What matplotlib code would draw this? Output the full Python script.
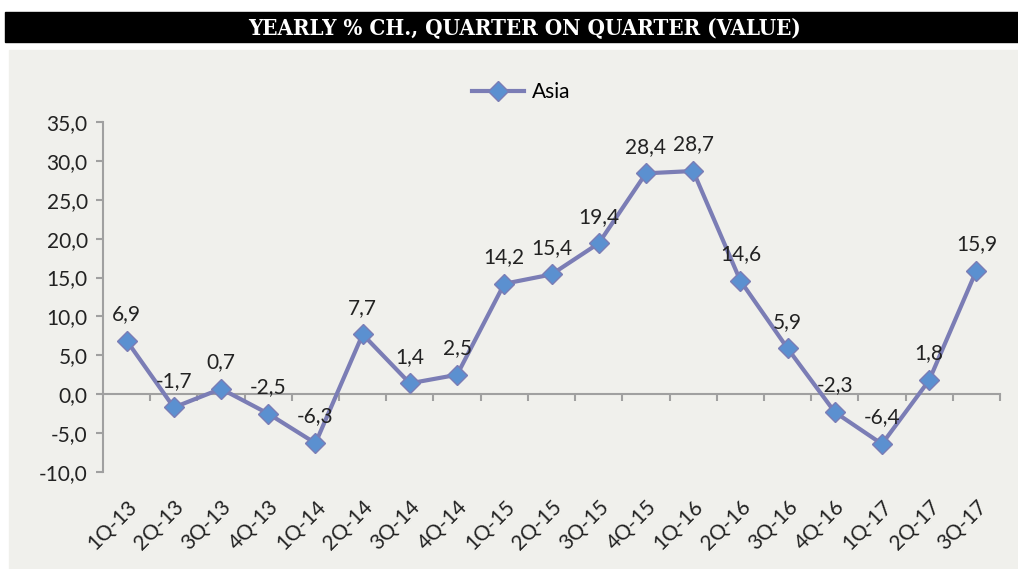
"""Yearly % change, quarter on quarter (value) - Asia."""
import matplotlib
matplotlib.use("Agg")
import matplotlib.pyplot as plt
from matplotlib.patches import Rectangle
from matplotlib.ticker import FixedLocator, FuncFormatter

# Data
quarters = ["1Q-13", "2Q-13", "3Q-13", "4Q-13", "1Q-14", "2Q-14", "3Q-14",
            "4Q-14", "1Q-15", "2Q-15", "3Q-15", "4Q-15", "1Q-16", "2Q-16",
            "3Q-16", "4Q-16", "1Q-17", "2Q-17", "3Q-17"]
asia = [6.9, -1.7, 0.7, -2.5, -6.3, 7.7, 1.4, 2.5, 14.2, 15.4, 19.4, 28.4,
        28.7, 14.6, 5.9, -2.3, -6.4, 1.8, 15.9]
y_ticks = [-10, -5, 0, 5, 10, 15, 20, 25, 30, 35]

BG = "#f0f0ec"
LINE = "#7b7db5"
MARKER = "#5b90d0"
AXIS = "#a0a0a0"
TXT = "#222222"

plt.rcParams["font.family"] = ["Lato", "DejaVu Sans"]

fig = plt.figure(figsize=(10.18, 5.69), dpi=100)
fig.patch.set_facecolor("white")

# grey panel and black title bar
fig.add_artist(Rectangle((9 / 1018, 0), 1 - 9 / 1018, 1 - 50 / 569,
                         transform=fig.transFigure, color=BG, zorder=0))
fig.add_artist(Rectangle((5 / 1018, 1 - 42 / 569), 1 - 5 / 1018, 30 / 569,
                         transform=fig.transFigure, color="black", zorder=0))
fig.text(0.515, 1 - 28 / 569, "YEARLY % CH., QUARTER ON QUARTER (VALUE)",
         color="white", ha="center", va="center", fontsize=16,
         family="DejaVu Serif", weight="bold", stretch="condensed")

ax = fig.add_axes([103 / 1018, 1 - 472 / 569, 897 / 1018, 350 / 569])
ax.set_facecolor("none")

x = list(range(len(quarters)))
ax.plot(x, asia, color=LINE, lw=3, marker="D", markersize=10,
        markerfacecolor=MARKER, markeredgecolor=LINE, markeredgewidth=1,
        label="Asia", zorder=3)

for xi, v in zip(x, asia):
    ax.annotate(f"{v:.1f}".replace(".", ","), (xi, v), xytext=(0, 12),
                textcoords="offset points", ha="center", va="bottom",
                fontsize=15, color=TXT)

ax.set_xlim(-0.5, len(quarters) - 0.5)
ax.set_ylim(-10, 35)

# y axis
ax.set_yticks(y_ticks)
ax.yaxis.set_major_formatter(FuncFormatter(lambda v, p: f"{v:.1f}".replace(".", ",")))
ax.tick_params(axis="y", length=5, width=1.5, color=AXIS, labelsize=15,
               labelcolor=TXT, pad=6)

# x axis line at zero with ticks between categories
for s in ["top", "right"]:
    ax.spines[s].set_visible(False)
ax.spines["left"].set_color(AXIS)
ax.spines["left"].set_linewidth(1.5)
ax.spines["bottom"].set_position(("data", 0))
ax.spines["bottom"].set_color(AXIS)
ax.spines["bottom"].set_linewidth(1.5)
ax.set_xticks([])
ax.xaxis.set_minor_locator(FixedLocator([i + 0.5 for i in x]))
ax.tick_params(axis="x", which="minor", length=5, width=1.5, color=AXIS)

# category labels at the bottom of the plot
sec = ax.secondary_xaxis(0.0)
sec.set_xticks(x)
sec.set_xticklabels(quarters, rotation=45, ha="right", rotation_mode="anchor",
                    fontsize=15, color=TXT)
sec.tick_params(length=0, pad=18)
sec.spines["bottom"].set_visible(False)

ax.legend(loc="center", bbox_to_anchor=(521 / 1018, 1 - 92 / 569),
          bbox_transform=fig.transFigure, frameon=False, fontsize=15,
          handlelength=2.5, handletextpad=0.4)

fig.savefig("out.png", dpi=100, facecolor=fig.get_facecolor())
